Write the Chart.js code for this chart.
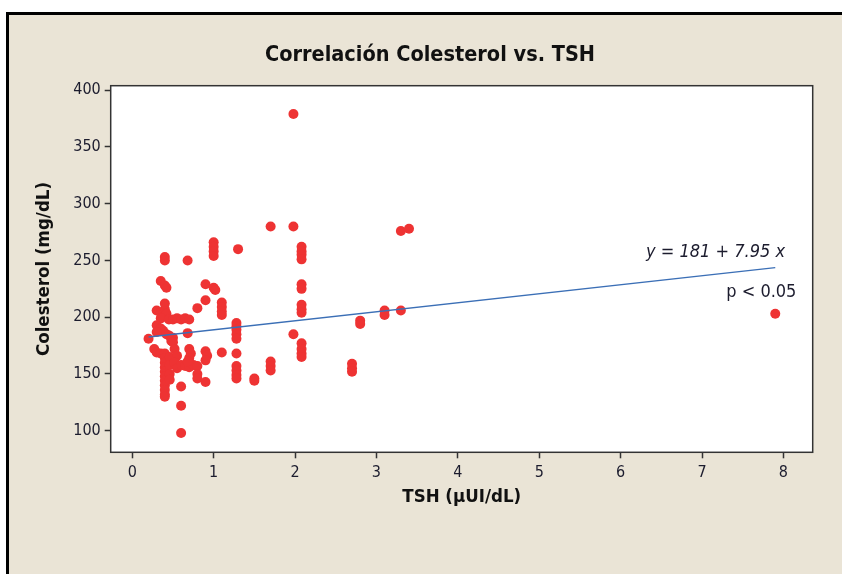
<!DOCTYPE html>
<html><head><meta charset="utf-8">
<script src="https://cdn.jsdelivr.net/npm/chart.js@4/dist/chart.umd.min.js"></script>
<style>
html,body{margin:0;padding:0;background:#fff;width:842px;height:574px;overflow:hidden;}
#frame{position:absolute;left:6px;top:12px;width:836px;height:562px;box-sizing:border-box;background:#EAE4D6;border-left:3px solid #000;border-top:3px solid #000;}
#wrap{position:absolute;left:0;top:0;width:842px;height:574px;}
</style></head><body>
<div id="frame"></div>
<div id="wrap"><canvas id="c" width="842" height="574"></canvas></div>
<script>
// TSH (µUI/dL) values of each subject
const tsh = [
  0.20,
  0.30,0.35,0.40,0.42,
  0.35,0.45,0.50,0.55,0.60,0.65,0.70,
  0.30,0.35,0.38,0.42,0.30,
  0.45,0.50,0.48,
  0.27,0.30,0.35,
  0.40,0.40,0.40,0.40,0.40,0.40,0.40,0.40,0.40,0.40,0.40,
  0.46,0.46,0.46,0.46,
  0.50,0.52,0.55,0.52,0.55,
  0.60,0.65,0.70,0.75,0.80,
  0.70,0.72,0.70,0.68,
  0.90,0.92,0.90,
  0.80,0.80,0.90,
  0.60,0.60,0.60,
  0.35,0.40,0.42,
  0.40,0.40,
  0.68,0.68,
  0.90,1.00,1.02,
  0.90,0.80,
  1.10,1.10,1.10,1.10,
  0.40,
  1.00,1.00,1.00,1.00,
  1.30,1.10,
  1.28,1.28,1.28,1.28,1.28,
  1.28,
  1.28,1.28,1.28,1.28,
  1.50,1.50,
  1.70,1.70,1.70,
  1.70,1.98,1.98,
  1.98,
  2.08,2.08,2.08,2.08,
  2.08,2.08,
  2.08,2.08,2.08,
  2.08,2.08,2.08,2.08,
  2.70,2.70,2.70,
  2.80,2.80,
  3.10,3.10,
  3.30,
  3.30,3.40,
  7.90
];
// Colesterol (mg/dL) values, same order as tsh
const colesterol = [
  181,
  206,204,207,203,
  199,198,198,199,198,199,198,
  193,190,188,185,187,
  184,182,179,
  172,169,168,
  168,164,160,156,152,148,144,140,136,132,130,
  165,158,150,145,
  178,172,166,160,155,
  158,157,156,158,157,
  172,168,164,161,
  170,166,162,
  150,146,143,
  139,122,98,
  232,228,226,
  253,250,
  250,186,
  229,226,224,
  215,208,
  213,209,205,202,
  212,
  266,262,258,254,
  260,169,
  195,192,189,185,181,
  168,
  157,153,149,146,
  146,144,
  161,157,153,
  280,280,379,
  185,
  262,258,255,251,
  229,225,
  211,207,204,
  177,172,168,165,
  159,155,152,
  197,194,
  206,202,
  206,
  276,278,
  203
];
// fitted regression line end points
const fitX = [0.2, 7.9];
const fitY = [182.6, 243.8];

const xTicks = [0,1,2,3,4,5,6,7,8];
const yTicks = [100,150,200,250,300,350,400];

const chartTitle = 'Correlación Colesterol vs. TSH';
const xTitle = 'TSH (µUI/dL)';
const yTitle = 'Colesterol (mg/dL)';
const eqLabel = 'y = 181 + 7.95 x';
const pLabel = 'p < 0.05';

const FONT = "'DejaVu Sans Condensed', 'DejaVu Sans', sans-serif";
const TXT = '#1c1c2e';

const plotBg = {
  id: 'plotBg',
  beforeDraw(chart) {
    const {ctx, chartArea: a} = chart;
    ctx.save();
    ctx.fillStyle = '#ffffff';
    ctx.fillRect(a.left, a.top, a.right - a.left, a.bottom - a.top);
    ctx.restore();
  },
  afterDraw(chart) {
    const {ctx, chartArea: a} = chart;
    ctx.save();
    ctx.strokeStyle = '#333333';
    ctx.lineWidth = 1.5;
    ctx.strokeRect(a.left, a.top, a.right - a.left, a.bottom - a.top);
    // chart title
    ctx.fillStyle = '#111111';
    ctx.textAlign = 'center';
    ctx.textBaseline = 'middle';
    ctx.font = "bold 21.5px " + FONT;
    ctx.fillText(chartTitle, 430, 55);
    ctx.restore();
  }
};

const notes = {
  id: 'notes',
  afterDatasetsDraw(chart) {
    const {ctx, scales: {x, y}} = chart;
    ctx.save();
    ctx.fillStyle = TXT;
    ctx.textAlign = 'right';
    ctx.textBaseline = 'middle';
    ctx.font = "oblique 18px " + FONT;
    ctx.fillText(eqLabel, x.getPixelForValue(8.02), y.getPixelForValue(257.5));
    ctx.font = "18px " + FONT;
    ctx.fillText(pLabel, x.getPixelForValue(8.16), y.getPixelForValue(222.3));
    ctx.restore();
  }
};

new Chart(document.getElementById('c'), {
  type: 'scatter',
  data: {
    datasets: [
      {
        type: 'line',
        data: fitX.map((v, i) => ({x: v, y: fitY[i]})),
        borderColor: '#3B6FB6',
        borderWidth: 1.3,
        pointRadius: 0,
        fill: false,
        order: 0
      },
      {
        data: tsh.map((v, i) => ({x: v, y: colesterol[i]})),
        backgroundColor: '#EE3333',
        borderWidth: 0,
        pointRadius: 5,
        order: 1
      }
    ]
  },
  options: {
    responsive: false,
    animation: false,
    devicePixelRatio: 1,
    layout: {padding: {left: 0, top: 85.7, right: 29.3, bottom: 0}},
    plugins: {
      legend: {display: false},
      tooltip: {enabled: false},
      title: {display: false}
    },
    scales: {
      x: {
        type: 'linear',
        min: -0.265,
        max: 8.36,
        afterFit(s) { s.height = 121.7; },
        afterBuildTicks(s) { s.ticks = xTicks.map(v => ({value: v})); },
        grid: {drawOnChartArea: false, drawTicks: true, tickLength: 6, tickColor: '#333333', tickWidth: 1.5},
        border: {display: false},
        ticks: {color: TXT, font: {family: FONT, size: 16}, padding: 5, maxRotation: 0},
        title: {display: true, text: xTitle, color: '#111111', font: {family: FONT, size: 18.5, weight: 'bold', lineHeight: 1.2}, padding: {top: 0, bottom: 66}}
      },
      y: {
        type: 'linear',
        min: 81,
        max: 404,
        afterFit(s) { s.width = 110.7; },
        afterBuildTicks(s) { s.ticks = yTicks.map(v => ({value: v})); },
        grid: {drawOnChartArea: false, drawTicks: true, tickLength: 6, tickColor: '#333333', tickWidth: 1.5},
        border: {display: false},
        ticks: {color: TXT, font: {family: FONT, size: 16}, padding: 4},
        title: {display: true, text: yTitle, color: '#111111', font: {family: FONT, size: 18.5, weight: 'bold', lineHeight: 1.2}, padding: {top: 33, bottom: 0}}
      }
    }
  },
  plugins: [plotBg, notes]
});
</script>
</body></html>
